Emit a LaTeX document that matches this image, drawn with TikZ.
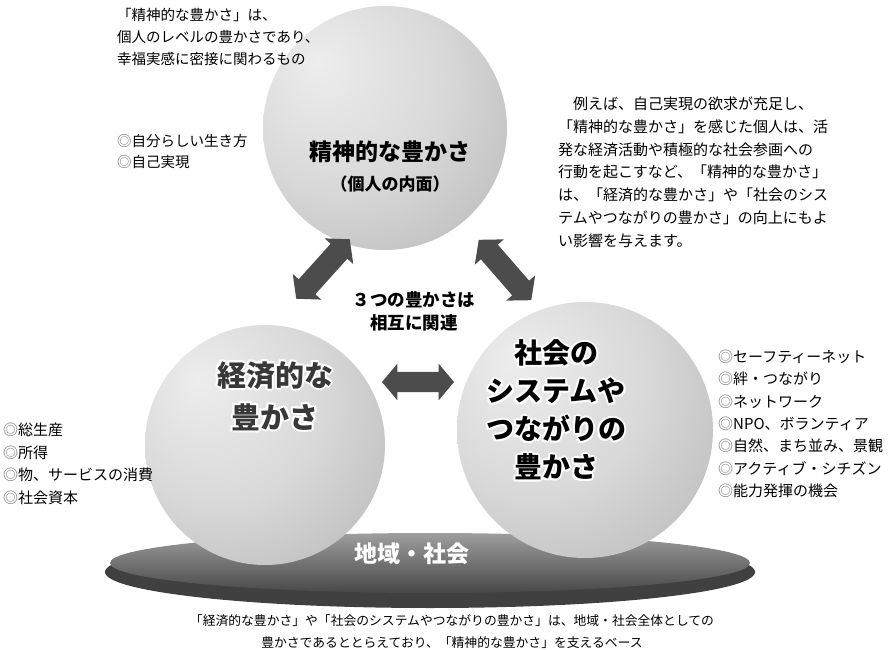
\documentclass[tikz,border=0pt]{standalone}
\usepackage{fontspec}
\setmainfont{Noto Sans CJK JP}
\usetikzlibrary{shapes.arrows,shapes.geometric}
\pgfdeclareradialshading{orb}{\pgfpoint{-14bp}{14bp}}{color(0bp)=(black!7); color(22bp)=(black!15); color(45bp)=(black!29); color(72bp)=(black!45)}
\definecolor{arrowgray}{gray}{0.3}
\definecolor{bulletgray}{gray}{0.45}
\newcommand\bul{{\color{bulletgray}◎}}
\newcommand\glowlabel[4]{%
  \foreach \gx/\gy in {-2/0,2/0,0/-2,0/2,-1.6/-1.6,1.6/1.6,-1.6/1.6,1.6/-1.6}{%
    \node[#3,text=white] at ([shift={(\gx,\gy)}]#2) {#4};}%
  \node[#3] (#1) at (#2) {#4};}
\begin{document}
\begin{tikzpicture}[x=1pt,y=-1pt,
  orbnode/.style={circle, shading=orb, draw=none, inner sep=0pt},
  biarrow/.style={double arrow, fill=arrowgray, draw=none, inner xsep=0pt, inner ysep=11pt,
    double arrow head extend=8pt, double arrow tip angle=100},
  body/.style={inner sep=0pt, align=left, font=\fontsize{14.5}{22}\selectfont},
  bigtitle/.style={align=center, inner sep=0pt}]
\useasboundingbox[fill=white] (0,0) rectangle (895,650);
% base disc
\node[ellipse, fill=black!75, minimum width=650pt, minimum height=72pt, inner sep=0pt] (rim) at (430,572) {};
\node[ellipse, top color=black!38, bottom color=black!72, minimum width=640pt, minimum height=60pt, inner sep=0pt] (base) at (430,563) {};
\node[font=\bfseries\fontsize{23}{28}\selectfont, text=white, inner sep=0pt] (basetxt) at (412,554) {地域・社会};
% spheres
\node[orbnode, minimum size=244pt] (spirit) at (385,128) {};
\node[orbnode, minimum size=240pt] (econ) at (265,445) {};
\node[orbnode, minimum size=256pt] (social) at (585,430) {};
% arrows
\node[biarrow, minimum height=80pt, rotate=48] (a1) at (323,269) {};
\node[biarrow, minimum height=80pt, rotate=-49] (a2) at (505,270) {};
\node[biarrow, minimum height=72pt, inner ysep=10pt] (a3) at (418,382) {};
\node[font=\bfseries\fontsize{17.5}{23}\selectfont, align=center, inner sep=0pt] (rel) at (414,311) {３つの豊かさは\\相互に関連};
% sphere titles
\node[font=\bfseries\fontsize{23}{28}\selectfont, inner sep=0pt] (t1) at (390,152) {精神的な豊かさ};
\node[font=\bfseries\fontsize{17}{22}\selectfont, inner sep=0pt] (t1b) at (390,184) {（個人の内面）};
\glowlabel{t2}{275,396}{bigtitle, text=black!78, font=\bfseries\fontsize{29}{42}\selectfont}{経済的な\\豊かさ}
\glowlabel{t3}{556,410}{bigtitle, font=\bfseries\fontsize{28}{38}\selectfont}{社会の\\システムや\\つながりの\\豊かさ}
% texts
\node[body, anchor=north west] (tl) at (117,8) {「精神的な豊かさ」は、\\個人のレベルの豊かさであり、\\幸福実感に密接に関わるもの};
\node[body, anchor=north west, font=\fontsize{14.5}{21.5}\selectfont] (tlb) at (117,134) {\bul 自分らしい生き方\\\bul 自己実現};
\node[body, anchor=north west, font=\fontsize{15}{22.7}\selectfont] (tr) at (558,97) {　例えば、自己実現の欲求が充足し、\\「精神的な豊かさ」を感じた個人は、活\\発な経済活動や積極的な社会参画への\\行動を起こすなど、「精神的な豊かさ」\\は、「経済的な豊かさ」や「社会のシス\\テムやつながりの豊かさ」の向上にもよ\\い影響を与えます。};
\node[body, anchor=north west, font=\fontsize{15}{22.4}\selectfont] (lb) at (3,423) {\bul 総生産\\\bul 所得\\\bul 物、サービスの消費\\\bul 社会資本};
\node[body, anchor=north west, font=\fontsize{15}{22.3}\selectfont] (rb) at (718,350) {\bul セーフティーネット\\\bul 絆・つながり\\\bul ネットワーク\\\bul NPO、ボランティア\\\bul 自然、まち並み、景観\\\bul アクティブ・シチズン\\\bul 能力発揮の機会};
\node[body, align=center, anchor=north, font=\fontsize{12.8}{22}\selectfont] (bt) at (452,614) {「経済的な豊かさ」や「社会のシステムやつながりの豊かさ」は、地域・社会全体としての\\豊かさであるととらえており、「精神的な豊かさ」を支えるベース};
\end{tikzpicture}
\end{document}
